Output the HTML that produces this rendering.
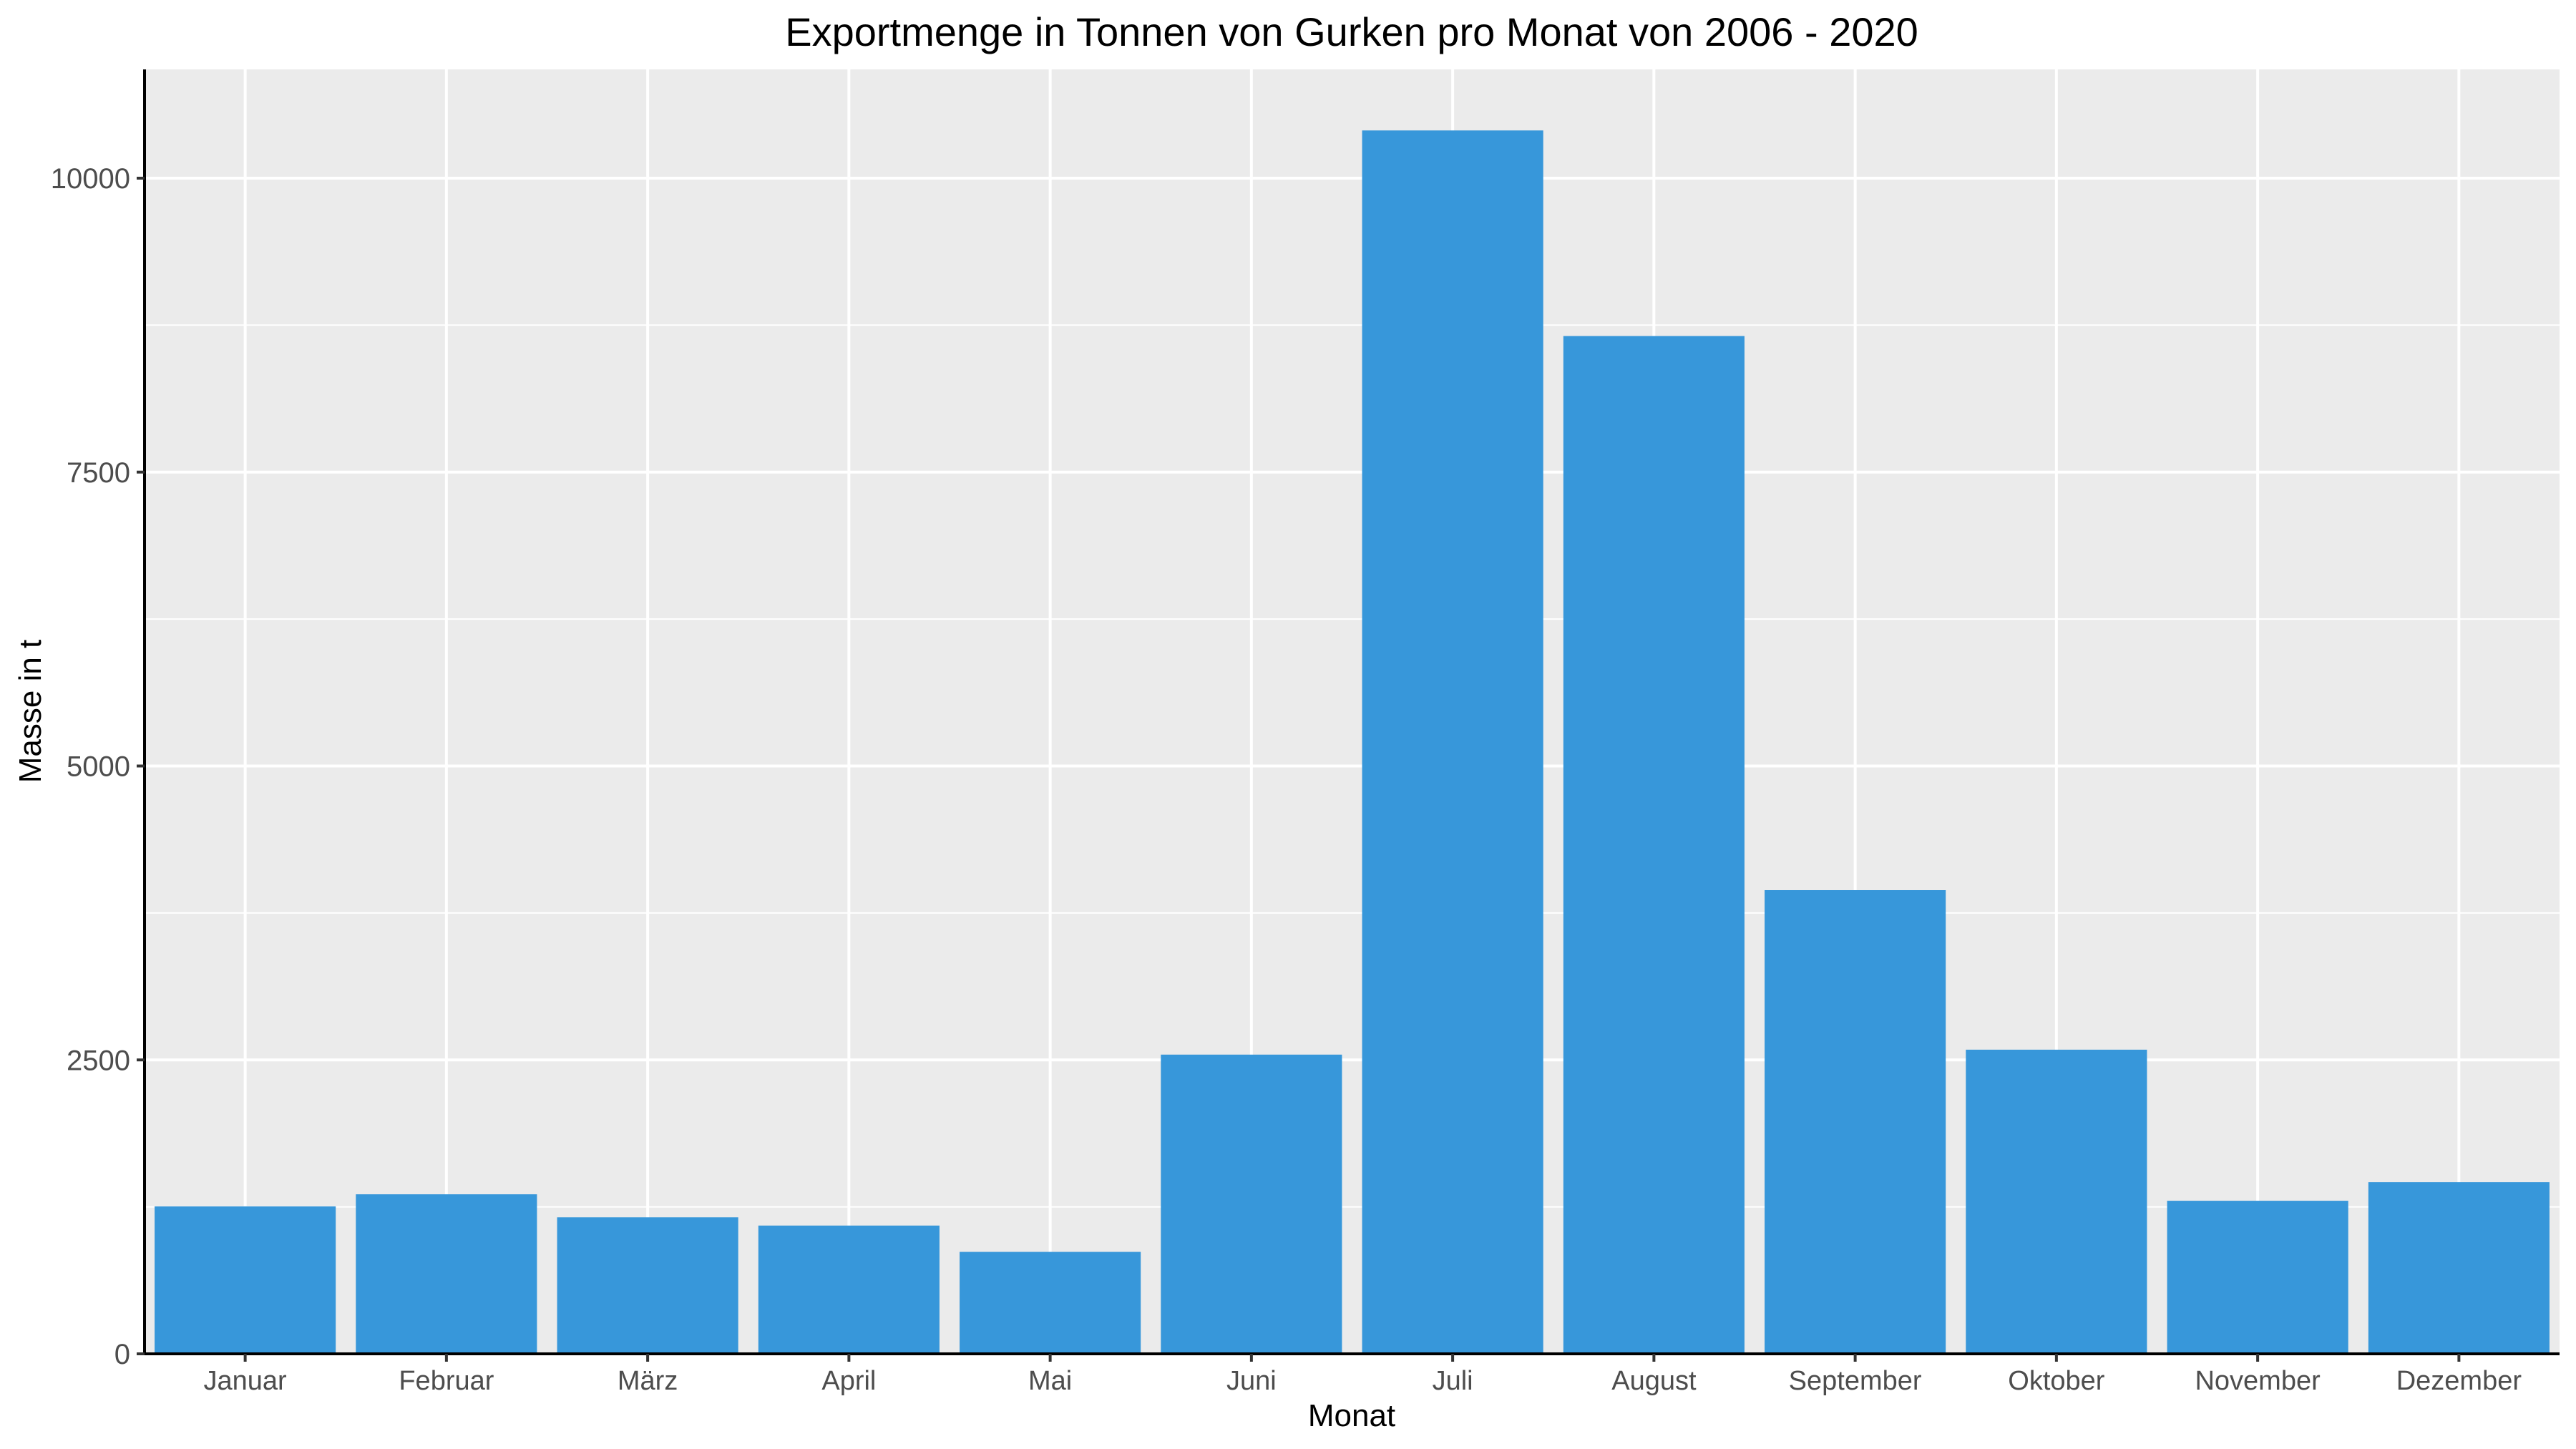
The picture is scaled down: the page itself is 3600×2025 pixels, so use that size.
<!DOCTYPE html>
<html><head><meta charset="utf-8"><style>
html,body{margin:0;padding:0;background:#fff;}
svg{display:block;font-family:"Liberation Sans",Arial,sans-serif;}
</style></head><body>
<svg id="chart" width="3600" height="2025" viewBox="0 0 3600 2025" xmlns="http://www.w3.org/2000/svg">
<rect x="0" y="0" width="3600" height="2025" fill="#fff"/>
<rect x="202" y="97" width="3375" height="1795" fill="#ebebeb"/>
<g id="grid"></g>
<g id="bars"></g>
<g id="axes"></g>
<text x="1889" y="64" text-anchor="middle" font-size="56" fill="#000">Exportmenge in Tonnen von Gurken pro Monat von 2006 - 2020</text>
<text x="1889" y="1993" text-anchor="middle" font-size="44" fill="#000">Monat</text>
<text transform="translate(57,994) rotate(-90)" text-anchor="middle" font-size="44" fill="#000">Masse in t</text>
</svg>
<script>
const categories = ["Januar","Februar","März","April","Mai","Juni","Juli","August","September","Oktober","November","Dezember"];
const values = [1254,1357,1161,1091,867,2545,10406,8657,3944,2587,1302,1460];
const yTicks = [0,2500,5000,7500,10000];
const yTickLabels = ["0","2500","5000","7500","10000"];
const yMinor = [1250,3750,6250,8750];

const NS="http://www.w3.org/2000/svg";
const L=202,R=3577,T=97,B=1892;
const unit=(R-L)/categories.length;
function xs(i){return L+(i+0.5)*unit;}
function ys(v){return B-v*(B-249)/10000;}
function mk(tag,attrs,parent){const e=document.createElementNS(NS,tag);for(const k in attrs)e.setAttribute(k,attrs[k]);parent.appendChild(e);return e;}
const grid=document.getElementById('grid'),bars=document.getElementById('bars'),axes=document.getElementById('axes');
yMinor.forEach(v=>{
  const l=mk('line',{x1:L,x2:R,y1:ys(v),y2:ys(v),stroke:'#fff','stroke-width':2},grid);
  
  
});
yTicks.forEach(v=>{
  const l=mk('line',{x1:L,x2:R,y1:ys(v),y2:ys(v),stroke:'#fff','stroke-width':4},grid);
  
  
});
categories.forEach((c,i)=>{
  const l=mk('line',{x1:xs(i),x2:xs(i),y1:T,y2:B,stroke:'#fff','stroke-width':4},grid);
  
  
});
const bw=unit*0.9;
values.forEach((v,i)=>{
  const r=mk('rect',{x:xs(i)-bw/2,y:ys(v),width:bw,height:B-ys(v),fill:'#3797da'},bars);
  
  
});
const ya=mk('line',{x1:L,x2:L,y1:T,y2:B+2,stroke:'#000','stroke-width':4},axes);


const xa=mk('line',{x1:L-2,x2:R,y1:B,y2:B,stroke:'#000','stroke-width':4},axes);


yTicks.forEach((v,i)=>{
  const t=mk('line',{x1:L-11,x2:L,y1:ys(v),y2:ys(v),stroke:'#333','stroke-width':4},axes);
  
  
  const tx=mk('text',{x:L-20,y:ys(v)+14,'text-anchor':'end','font-size':40,fill:'#4d4d4d'},axes);
  tx.textContent=yTickLabels[i];
  
  
});
categories.forEach((c,i)=>{
  const t=mk('line',{x1:xs(i),x2:xs(i),y1:B,y2:B+11,stroke:'#333','stroke-width':4},axes);
  
  
  const tx=mk('text',{x:xs(i),y:1942,'text-anchor':'middle','font-size':38,fill:'#4d4d4d'},axes);
  tx.textContent=c;
  
  
});
</script>
</body></html>
